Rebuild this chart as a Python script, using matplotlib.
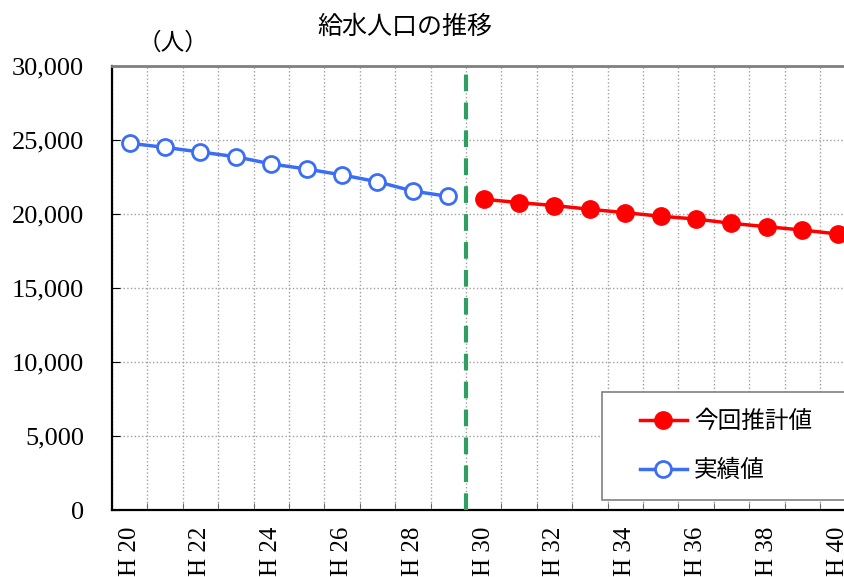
import numpy as np
import matplotlib.pyplot as plt
from matplotlib.patches import Rectangle
from matplotlib.ticker import FuncFormatter, MultipleLocator

plt.rcParams['font.family'] = ['Liberation Serif', 'Noto Sans CJK JP']

# 給水人口 (人)
years = [f"H {y}" for y in range(20, 41)]
actual = [24780, 24500, 24190, 23870, 23380, 23040, 22640, 22180, 21550, 21190]
forecast = [21000, 20770, 20570, 20320, 20090, 19850, 19660, 19370, 19140, 18920, 18650]

jp = 'Noto Sans CJK JP'

fig = plt.figure(figsize=(8.45, 5.77), dpi=100)
ax = fig.add_axes([0.1325, 0.1161, 0.8797, 0.7695])

x_act = np.arange(len(actual))
x_fc = np.arange(len(actual), len(actual) + len(forecast))

ax.plot(x_fc, forecast, color='#ff0000', lw=2.5, marker='o', ms=12.5,
        markerfacecolor='#ff0000', markeredgecolor='#ff0000', label='今回推計値', zorder=4)
ax.plot(x_act, actual, color='#3b6ef5', lw=2.5, marker='o', ms=11.5,
        markerfacecolor='white', markeredgecolor='#3b6ef5', markeredgewidth=2,
        label='実績値', zorder=4)

# boundary between actual and forecast
ax.axvline(len(actual) - 0.5, color='#2e9e62', lw=3, ls=(0, (4, 2.7)), zorder=3)

ax.set_xlim(-0.5, len(years) - 0.5)
ax.set_ylim(0, 30000)
ax.yaxis.set_major_locator(MultipleLocator(5000))
ax.yaxis.set_major_formatter(FuncFormatter(lambda v, p: f"{int(v):,}"))

ax.set_xticks(np.arange(0, len(years), 2))
ax.set_xticklabels(years[::2], rotation=90, va='top', ha='center')
ax.set_xticks(np.arange(-0.5, len(years), 1), minor=True)

ax.tick_params(axis='x', which='major', length=0, pad=12, labelsize=18)
ax.tick_params(axis='x', which='minor', direction='in', length=5, color='#555555')
ax.tick_params(axis='y', direction='in', length=6, pad=20, labelsize=19)

ax.grid(True, axis='y', which='major', color='#a0a0a0', ls=':', lw=1)
ax.grid(True, axis='x', which='minor', color='#a0a0a0', ls=':', lw=1)
ax.set_axisbelow(True)

for side in ['left', 'bottom']:
    ax.spines[side].set_linewidth(1.6)
    ax.spines[side].set_color('black')
ax.spines['top'].set_color('#808080')
ax.spines['top'].set_linewidth(2)
ax.spines['right'].set_visible(False)

# legend frame
ax.add_patch(Rectangle((0.659, 0.0225), 0.4, 0.243, transform=ax.transAxes,
                       facecolor='white', edgecolor='#808080', lw=1.2,
                       clip_on=False, zorder=5))
leg = ax.legend(loc='center left', bbox_to_anchor=(0.710, 0.144), frameon=False,
                prop={'family': jp, 'size': 17}, handlelength=2.0, handletextpad=0.3,
                labelspacing=1.1, borderpad=0, borderaxespad=0)
leg.set_zorder(6)

fig.text(0.479, 0.953, '給水人口の推移', ha='center', va='center', family=jp, fontsize=18)
fig.text(0.205, 0.925, '（人）', ha='center', va='center', family=jp, fontsize=17)

fig.savefig('out.png', dpi=100)
